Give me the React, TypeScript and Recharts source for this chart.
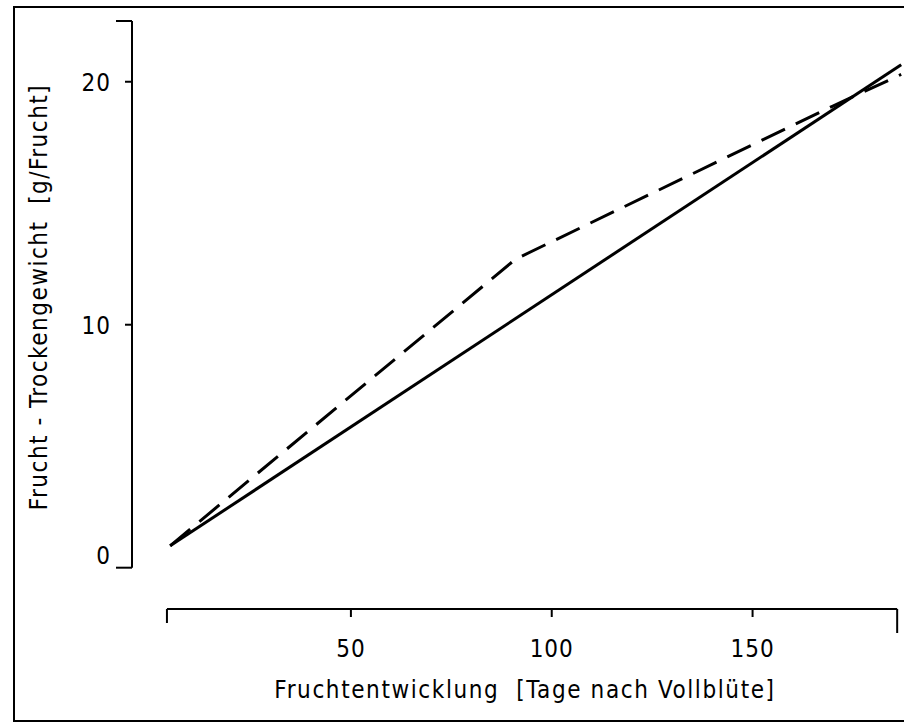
import { LineChart, Line, XAxis, YAxis, ReferenceLine } from 'recharts';

// Tage nach Vollblüte / Trockengewicht g pro Frucht
const solidDays = [5, 187];
const solidWeight = [0.9, 20.7];

const dashedDays = [5, 91, 170, 187];
const dashedWeight = [0.9, 12.7, 19.0, 20.3];

const xTicks = [4.2, 50, 100, 150, 186];
const xTickLabels = ['', '50', '100', '150', ''];
const yTicks = [0, 10, 20, 22.5];
const yTickLabels = ['0', '10', '20', ''];

const X_MIN = -4.5;
const X_MAX = 187.7;
const Y_MIN = -1.7;
const Y_MAX = 22.5;

const FONT = '"DejaVu Sans Condensed", "DejaVu Sans", sans-serif';

const solidData = solidDays.map((d, i) => ({ day: d, weight: solidWeight[i] }));
const dashedData = dashedDays.map((d, i) => ({ day: d, weight: dashedWeight[i] }));

function XTick(props: any) {
  const { x, y, payload, index } = props;
  const first = index === 0;
  const last = index === xTicks.length - 1;
  const len = first ? 14 : last ? 24 : 8;
  return (
    <g>
      <line x1={x} y1={y} x2={x} y2={y + len} stroke="#000" strokeWidth={2} />
      <text
        x={x}
        y={y + 40}
        textAnchor="middle"
        dominantBaseline="central"
        fontFamily={FONT}
        fontSize={24}
        letterSpacing={1}
        fill="#000"
      >
        {xTickLabels[xTicks.indexOf(payload.value)]}
      </text>
    </g>
  );
}

function YTick(props: any) {
  const { x, y, payload } = props;
  const v = payload.value;
  const end = v === 0 || v === Y_MAX;
  const label = yTickLabels[yTicks.indexOf(v)];
  return (
    <g>
      <line x1={x - (end ? 16 : 7)} y1={y} x2={x} y2={y} stroke="#000" strokeWidth={2} />
      <text
        x={x - 21}
        y={v === 0 ? y - 12 : y + 1}
        textAnchor="end"
        dominantBaseline="central"
        fontFamily={FONT}
        fontSize={24}
        letterSpacing={1}
        fill="#000"
      >
        {label}
      </text>
    </g>
  );
}

export default function App() {
  return (
    <div style={{ position: 'fixed', left: 0, top: 0, width: 904, height: 722, background: '#fff', overflow: 'hidden' }}>
      <div
        style={{
          position: 'absolute',
          left: 13,
          top: 6,
          width: 920,
          height: 712,
          border: '2px solid #000',
        }}
      />
      <LineChart
        width={904}
        height={722}
        data={solidData}
        margin={{ top: 21, right: 0, bottom: 53, left: 72 }}
        style={{ position: 'absolute', left: 0, top: 0 }}
      >
        <XAxis
          dataKey="day"
          type="number"
          domain={[X_MIN, X_MAX]}
          ticks={xTicks}
          allowDataOverflow
          axisLine={false}
          tickLine={false}
          tickSize={0}
          tickMargin={0}
          height={60}
          interval={0}
          tick={<XTick />}
        />
        <YAxis
          type="number"
          domain={[Y_MIN, Y_MAX]}
          ticks={yTicks}
          allowDataOverflow
          axisLine={false}
          tickLine={false}
          tickSize={0}
          tickMargin={0}
          width={60}
          interval={0}
          tick={<YTick />}
        />
        <ReferenceLine
          segment={[{ x: X_MIN, y: 0 }, { x: X_MIN, y: Y_MAX }]}
          stroke="#000"
          strokeWidth={2}
        />
        <ReferenceLine
          segment={[{ x: xTicks[0], y: Y_MIN }, { x: xTicks[xTicks.length - 1], y: Y_MIN }]}
          stroke="#000"
          strokeWidth={2}
        />
        <Line
          data={solidData}
          dataKey="weight"
          stroke="#000"
          strokeWidth={3}
          dot={false}
          isAnimationActive={false}
        />
        <Line
          data={dashedData}
          dataKey="weight"
          stroke="#000"
          strokeWidth={3}
          strokeDasharray="26 12"
          dot={false}
          isAnimationActive={false}
        />
      </LineChart>
      <svg width={904} height={722} style={{ position: 'absolute', left: 0, top: 0, pointerEvents: 'none' }}>
        <text
          x={525}
          y={690}
          textAnchor="middle"
          dominantBaseline="central"
          fontFamily={FONT}
          fontSize={24}
          letterSpacing={1.6}
          fill="#000"
          style={{ whiteSpace: 'pre' }}
        >
          Fruchtentwicklung  [Tage nach Vollblüte]
        </text>
        <text
          x={39}
          y={297}
          transform="rotate(-90 39 297)"
          textAnchor="middle"
          dominantBaseline="central"
          fontFamily={FONT}
          fontSize={24}
          letterSpacing={1.5}
          fill="#000"
          style={{ whiteSpace: 'pre' }}
        >
          Frucht - Trockengewicht  [g/Frucht]
        </text>
      </svg>
    </div>
  );
}
